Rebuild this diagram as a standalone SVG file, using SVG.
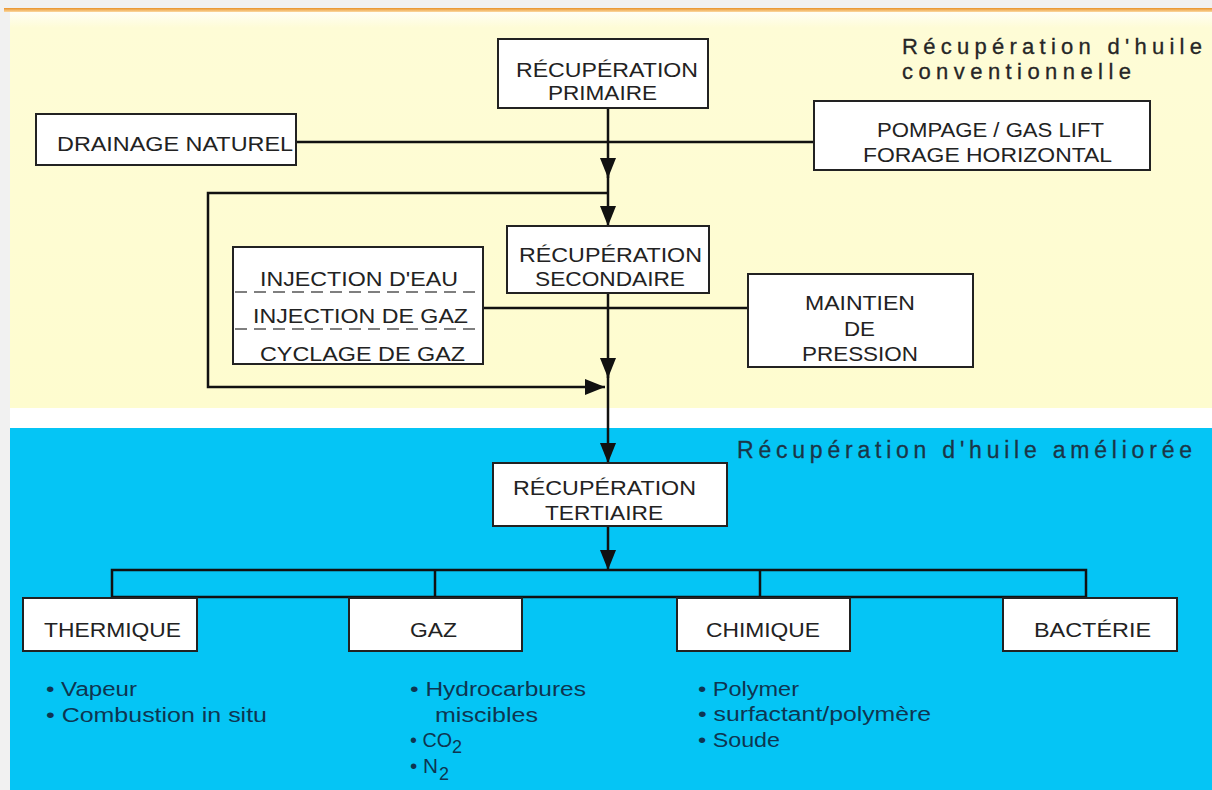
<svg xmlns="http://www.w3.org/2000/svg" width="1212" height="790" viewBox="0 0 1212 790">
<defs>
<linearGradient id="gOr" x1="0" y1="0" x2="0" y2="1"><stop offset="0" stop-color="#e8922a"/><stop offset="1" stop-color="#fbd8a0"/></linearGradient>
<linearGradient id="gYe" x1="0" y1="0" x2="0" y2="1"><stop offset="0" stop-color="#fffef4"/><stop offset="0.04" stop-color="#fefcd6"/><stop offset="1" stop-color="#fefccf"/></linearGradient>
<marker id="ah" viewBox="0 0 20 16" refX="20" refY="8" markerWidth="20" markerHeight="16" markerUnits="userSpaceOnUse" orient="auto"><path d="M0,0 L20,8 L0,16 Z" fill="#111"/></marker>
<style>
.box{fill:#fff;stroke:#222;stroke-width:2}
.bt{font-family:"Liberation Sans",Arial,sans-serif;font-size:21px;fill:#222}
.ti{font-family:"Liberation Sans",Arial,sans-serif;font-size:22px;fill:#262626;stroke:#262626;stroke-width:0.3}
.ti2{font-family:"Liberation Sans",Arial,sans-serif;font-size:23px;fill:#1b3547;stroke:#1b3547;stroke-width:0.3}
.li{font-family:"Liberation Sans",Arial,sans-serif;font-size:20px;fill:#0e3551}
.sub{font-family:"Liberation Sans",Arial,sans-serif;font-size:18px;fill:#0e3551}
.ln{fill:none;stroke:#111;stroke-width:2.5}
.dash{stroke:#555;stroke-width:1.5;stroke-dasharray:12 7}
</style>
</defs>
<g id="background">
<rect x="0" y="0" width="1212" height="790" fill="#f1f1f1"/>
<rect x="4" y="8" width="1208" height="4" fill="url(#gOr)"/>
<rect x="10" y="12" width="1202" height="396" fill="url(#gYe)"/>
<rect x="10" y="408" width="1202" height="20" fill="#ffffff"/>
<rect x="10" y="428" width="1202" height="362" fill="#05c5f5"/>
</g>
<g id="titles">
<text class="ti" x="902" y="54" textLength="300" lengthAdjust="spacing">Récupération d'huile</text>
<text class="ti" x="902" y="79" textLength="229" lengthAdjust="spacing">conventionnelle</text>
<text class="ti2" x="737" y="458" textLength="455" lengthAdjust="spacing">Récupération d'huile améliorée</text>
</g>
<g id="connectors">
<line class="ln" x1="608" y1="108" x2="608" y2="178" marker-end="url(#ah)"/>
<line class="ln" x1="608" y1="170" x2="608" y2="226" marker-end="url(#ah)"/>
<line class="ln" x1="296" y1="142" x2="815" y2="142"/>
<polyline class="ln" points="608,193 208,193 208,387 605,387" marker-end="url(#ah)"/>
<line class="ln" x1="608" y1="293" x2="608" y2="378" marker-end="url(#ah)"/>
<line class="ln" x1="608" y1="370" x2="608" y2="463" marker-end="url(#ah)"/>
<line class="ln" x1="483" y1="308" x2="748" y2="308"/>
<line class="ln" x1="608" y1="526" x2="608" y2="570" marker-end="url(#ah)"/>
<polyline class="ln" points="112,597 112,570 1086,570 1086,597"/>
<line class="ln" x1="435" y1="570" x2="435" y2="597"/>
<line class="ln" x1="760" y1="570" x2="760" y2="597"/>
<line class="ln" x1="112" y1="597" x2="1086" y2="597"/>
</g>
<g id="primaire">
<rect class="box" x="498" y="39" width="210" height="69"/>
<text class="bt" x="516" y="77" textLength="182" lengthAdjust="spacingAndGlyphs">RÉCUPÉRATION</text>
<text class="bt" x="548" y="100" textLength="109" lengthAdjust="spacingAndGlyphs">PRIMAIRE</text>
</g>
<g id="drainage">
<rect class="box" x="36" y="114" width="260" height="51"/>
<text class="bt" x="57" y="151" textLength="236" lengthAdjust="spacingAndGlyphs">DRAINAGE NATUREL</text>
</g>
<g id="pompage">
<rect class="box" x="814" y="101" width="336" height="69"/>
<text class="bt" x="877" y="137" textLength="227" lengthAdjust="spacingAndGlyphs">POMPAGE / GAS LIFT</text>
<text class="bt" x="863" y="162" textLength="249" lengthAdjust="spacingAndGlyphs">FORAGE HORIZONTAL</text>
</g>
<g id="secondaire">
<rect class="box" x="507" y="226" width="202" height="67"/>
<text class="bt" x="519" y="262" textLength="183" lengthAdjust="spacingAndGlyphs">RÉCUPÉRATION</text>
<text class="bt" x="535" y="286" textLength="150" lengthAdjust="spacingAndGlyphs">SECONDAIRE</text>
</g>
<g id="injection">
<rect class="box" x="233" y="247" width="250" height="117"/>
<line class="dash" x1="235" y1="292" x2="481" y2="292"/>
<line class="dash" x1="235" y1="329" x2="481" y2="329"/>
<text class="bt" x="260" y="286" textLength="198" lengthAdjust="spacingAndGlyphs">INJECTION D'EAU</text>
<text class="bt" x="253" y="323" textLength="215" lengthAdjust="spacingAndGlyphs">INJECTION DE GAZ</text>
<text class="bt" x="260" y="361" textLength="205" lengthAdjust="spacingAndGlyphs">CYCLAGE DE GAZ</text>
</g>
<g id="maintien">
<rect class="box" x="748" y="274" width="225" height="93"/>
<text class="bt" x="805" y="310" textLength="110" lengthAdjust="spacingAndGlyphs">MAINTIEN</text>
<text class="bt" x="844" y="336" textLength="31" lengthAdjust="spacingAndGlyphs">DE</text>
<text class="bt" x="802" y="361" textLength="116" lengthAdjust="spacingAndGlyphs">PRESSION</text>
</g>
<g id="tertiaire">
<rect class="box" x="493" y="463" width="234" height="63"/>
<text class="bt" x="513" y="495" textLength="183" lengthAdjust="spacingAndGlyphs">RÉCUPÉRATION</text>
<text class="bt" x="545" y="520" textLength="118" lengthAdjust="spacingAndGlyphs">TERTIAIRE</text>
</g>
<g id="thermique">
<rect class="box" x="23" y="598" width="174" height="53"/>
<text class="bt" x="44" y="637" textLength="137" lengthAdjust="spacingAndGlyphs">THERMIQUE</text>
<text class="li" x="46" y="696" textLength="91" lengthAdjust="spacingAndGlyphs">• Vapeur</text>
<text class="li" x="46" y="722" textLength="221" lengthAdjust="spacingAndGlyphs">• Combustion in situ</text>
</g>
<g id="gaz">
<rect class="box" x="349" y="598" width="173" height="53"/>
<text class="bt" x="410" y="637" textLength="47" lengthAdjust="spacingAndGlyphs">GAZ</text>
<text class="li" x="410" y="696" textLength="176" lengthAdjust="spacingAndGlyphs">• Hydrocarbures</text>
<text class="li" x="435" y="722" textLength="103" lengthAdjust="spacingAndGlyphs">miscibles</text>
<text class="li" x="410" y="747" textLength="42" lengthAdjust="spacingAndGlyphs">• CO</text>
<text class="sub" x="452" y="753">2</text>
<text class="li" x="410" y="773" textLength="28" lengthAdjust="spacingAndGlyphs">• N</text>
<text class="sub" x="439" y="780">2</text>
</g>
<g id="chimique">
<rect class="box" x="677" y="598" width="173" height="53"/>
<text class="bt" x="706" y="637" textLength="114" lengthAdjust="spacingAndGlyphs">CHIMIQUE</text>
<text class="li" x="698" y="696" textLength="101" lengthAdjust="spacingAndGlyphs">• Polymer</text>
<text class="li" x="698" y="721" textLength="233" lengthAdjust="spacingAndGlyphs">• surfactant/polymère</text>
<text class="li" x="698" y="747" textLength="82" lengthAdjust="spacingAndGlyphs">• Soude</text>
</g>
<g id="bacterie">
<rect class="box" x="1003" y="598" width="174" height="53"/>
<text class="bt" x="1034" y="637" textLength="117" lengthAdjust="spacingAndGlyphs">BACTÉRIE</text>
</g>
</svg>
